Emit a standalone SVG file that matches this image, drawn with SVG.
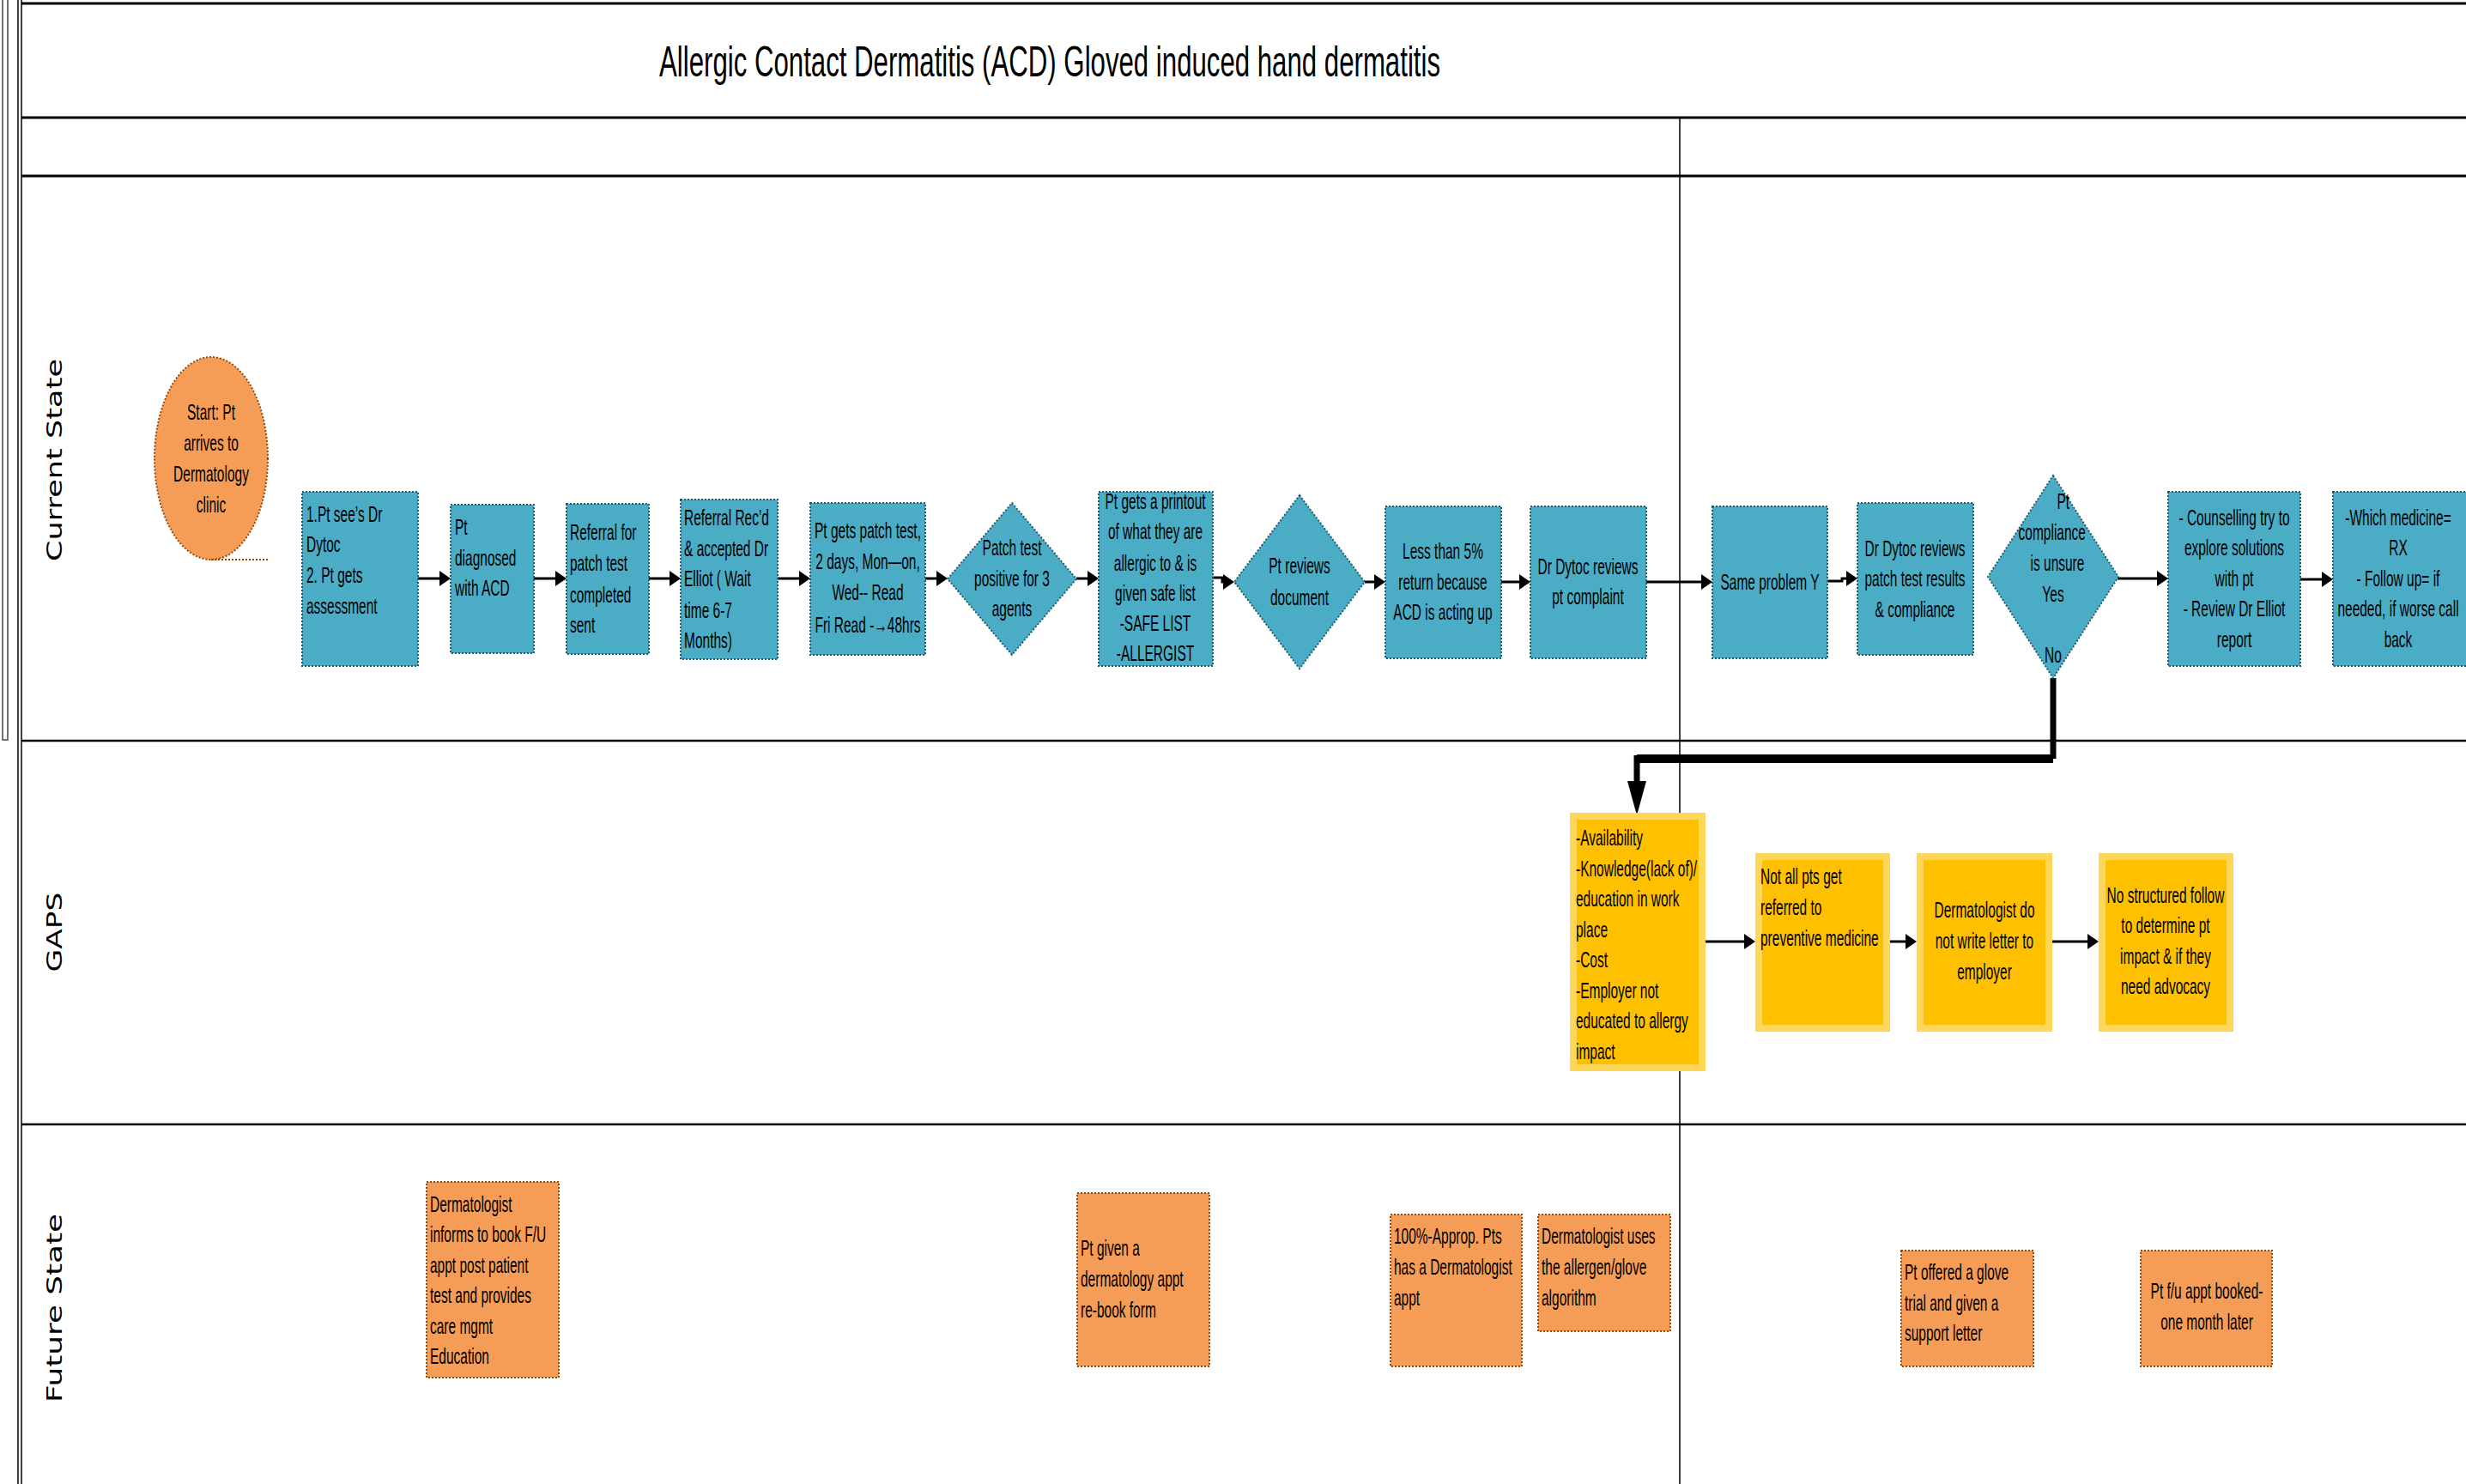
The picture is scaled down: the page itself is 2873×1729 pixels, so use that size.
<svg xmlns="http://www.w3.org/2000/svg" width="2873" height="1729" viewBox="0 0 2873 1729">
<style>
.t{font-family:"Liberation Sans",Arial,sans-serif;font-size:25px;fill:#000}
.lane{font-family:"DejaVu Sans","Liberation Sans",sans-serif;font-size:24px;fill:#000}
.blue{fill:#4BACC6;stroke:#1F5C70;stroke-width:2;stroke-dasharray:2 2}
.orange{fill:#F59D56;stroke:#984807;stroke-width:2;stroke-dasharray:2 2}
.yellow{fill:#FFC000;stroke:#FFD758;stroke-width:8}
.frame{stroke:#000;fill:none}
.c{fill:none;stroke:#000;stroke-width:3;marker-end:url(#ah)}
</style>
<defs>
<marker id="ah" markerUnits="userSpaceOnUse" markerWidth="14" markerHeight="18" refX="1" refY="9" orient="auto"><path d="M0,0 L13,9 L0,18 z" fill="#000"/></marker>
<marker id="ahBig" markerUnits="userSpaceOnUse" markerWidth="41" markerHeight="24" refX="0" refY="11" orient="auto"><path d="M0,0 L40,11 L0,22 z" fill="#000"/></marker>
</defs>
<rect width="2873" height="1729" fill="#fff"/>

<g id="frame">
<rect x="3" y="-5" width="6" height="867" fill="none" stroke="#444" stroke-width="1.5"/>
<line class="frame" x1="21" y1="0" x2="21" y2="1729" stroke-width="1.5"/>
<line class="frame" x1="25" y1="0" x2="25" y2="1729" stroke-width="1.5"/>
<line class="frame" x1="25" y1="4" x2="2873" y2="4" stroke-width="3"/>
<line class="frame" x1="25" y1="137" x2="2873" y2="137" stroke-width="3"/>
<line class="frame" x1="25" y1="205" x2="2873" y2="205" stroke-width="3"/>
<line class="frame" x1="25" y1="863" x2="2873" y2="863" stroke-width="2.5"/>
<line class="frame" x1="25" y1="1310" x2="2873" y2="1310" stroke-width="2.5"/>
<line class="frame" x1="1957" y1="137" x2="1957" y2="1729" stroke-width="1.5"/>
<text x="768" y="89" font-family="Liberation Sans, Arial, sans-serif" font-size="50" textLength="910" lengthAdjust="spacingAndGlyphs">Allergic Contact Dermatitis (ACD) Gloved induced hand dermatitis</text>
<text class="lane" transform="translate(72,536) rotate(-90)" text-anchor="middle" textLength="236" lengthAdjust="spacingAndGlyphs">Current State</text>
<text class="lane" transform="translate(72,1086) rotate(-90)" text-anchor="middle" textLength="93" lengthAdjust="spacingAndGlyphs">GAPS</text>
<text class="lane" transform="translate(72,1524) rotate(-90)" text-anchor="middle" textLength="220" lengthAdjust="spacingAndGlyphs">Future State</text>
</g>

<g id="connectors">
<path class="c" d="M486,674 H513"/>
<path class="c" d="M622,674 H648"/>
<path class="c" d="M756,674 H781"/>
<path class="c" d="M906,674 H932"/>
<path class="c" d="M1078,674 H1092"/>
<path class="c" d="M1254,674 H1268"/>
<path class="c" d="M1413,673 H1424 V678 H1426"/>
<path class="c" d="M1590,678 H1602"/>
<path class="c" d="M1749,678 H1771"/>
<path class="c" d="M1918,678 H1983"/>
<path class="c" d="M2129,677 H2146 V674 H2152"/>
<path class="c" d="M2467,674 H2514"/>
<path class="c" d="M2680,675 H2706"/>
<path d="M2392,790 V884" fill="none" stroke="#000" stroke-width="7"/>
<path d="M2392,884 H1907" fill="none" stroke="#000" stroke-width="10" stroke-linejoin="round"/>
<path d="M1907,880 V910" fill="none" stroke="#000" stroke-width="7" marker-end="url(#ahBig)"/>
<path class="c" d="M1987,1097 H2033"/>
<path class="c" d="M2202,1097 H2221"/>
<path class="c" d="M2391,1097 H2433"/>
</g>

<g id="n1">
<ellipse class="orange" cx="246" cy="534" rx="66" ry="118"/>
<line x1="246" y1="652" x2="312" y2="652" stroke="#984807" stroke-width="2" stroke-dasharray="2 2"/>
<text class="t" transform="translate(246 0) scale(0.62 1)" text-anchor="middle"><tspan x="0" y="489">Start: Pt</tspan><tspan x="0" y="525">arrives to</tspan><tspan x="0" y="561">Dermatology</tspan><tspan x="0" y="597">clinic</tspan></text>
</g>
<g id="n2">
<rect class="blue" x="352" y="573" width="135" height="203"/>
<text class="t" transform="translate(357 0) scale(0.62 1)"><tspan x="0" y="608">1.Pt see’s Dr</tspan><tspan x="0" y="643">Dytoc</tspan><tspan x="0" y="679">2. Pt gets</tspan><tspan x="0" y="715">assessment</tspan></text>
</g>
<g id="n3">
<rect class="blue" x="525" y="588" width="97" height="173"/>
<text class="t" transform="translate(530 0) scale(0.62 1)"><tspan x="0" y="623">Pt</tspan><tspan x="0" y="659">diagnosed</tspan><tspan x="0" y="694">with ACD</tspan></text>
</g>
<g id="n4">
<rect class="blue" x="660" y="587" width="96" height="175"/>
<text class="t" transform="translate(664 0) scale(0.62 1)"><tspan x="0" y="629">Referral for</tspan><tspan x="0" y="665">patch test</tspan><tspan x="0" y="702">completed</tspan><tspan x="0" y="737">sent</tspan></text>
</g>
<g id="n5">
<rect class="blue" x="793" y="582" width="113" height="186"/>
<text class="t" transform="translate(797 0) scale(0.62 1)"><tspan x="0" y="612">Referral Rec’d</tspan><tspan x="0" y="648">&amp; accepted Dr</tspan><tspan x="0" y="683">Elliot ( Wait</tspan><tspan x="0" y="720">time 6-7</tspan><tspan x="0" y="755">Months)</tspan></text>
</g>
<g id="n6">
<rect class="blue" x="944" y="586" width="134" height="177"/>
<text class="t" transform="translate(1011 0) scale(0.62 1)" text-anchor="middle"><tspan x="0" y="627">Pt gets patch test,</tspan><tspan x="0" y="663">2 days, Mon—on,</tspan><tspan x="0" y="699">Wed-- Read</tspan><tspan x="0" y="737">Fri Read -→48hrs</tspan></text>
</g>
<g id="n7">
<polygon class="blue" points="1179,586 1254,674.5 1179,763 1104,674.5"/>
<text class="t" transform="translate(1179 0) scale(0.62 1)" text-anchor="middle"><tspan x="0" y="647">Patch test</tspan><tspan x="0" y="683">positive for 3</tspan><tspan x="0" y="718">agents</tspan></text>
</g>
<g id="n8">
<rect class="blue" x="1280" y="573" width="133" height="203"/>
<text class="t" transform="translate(1346 0) scale(0.62 1)" text-anchor="middle"><tspan x="0" y="593">Pt gets a printout</tspan><tspan x="0" y="628">of what they are</tspan><tspan x="0" y="665">allergic to &amp; is</tspan><tspan x="0" y="700">given safe list</tspan><tspan x="0" y="735">-SAFE LIST</tspan><tspan x="0" y="770">-ALLERGIST</tspan></text>
</g>
<g id="n9">
<polygon class="blue" points="1514,577 1590,678 1514,779 1438,678"/>
<text class="t" transform="translate(1514 0) scale(0.62 1)" text-anchor="middle"><tspan x="0" y="668">Pt reviews</tspan><tspan x="0" y="705">document</tspan></text>
</g>
<g id="n10">
<rect class="blue" x="1614" y="590" width="135" height="177"/>
<text class="t" transform="translate(1681 0) scale(0.62 1)" text-anchor="middle"><tspan x="0" y="651">Less than 5%</tspan><tspan x="0" y="687">return because</tspan><tspan x="0" y="722">ACD is acting up</tspan></text>
</g>
<g id="n11">
<rect class="blue" x="1783" y="590" width="135" height="177"/>
<text class="t" transform="translate(1850 0) scale(0.62 1)" text-anchor="middle"><tspan x="0" y="669">Dr Dytoc reviews</tspan><tspan x="0" y="704">pt complaint</tspan></text>
</g>
<g id="n12">
<rect class="blue" x="1995" y="590" width="134" height="177"/>
<text class="t" transform="translate(2062 0) scale(0.62 1)" text-anchor="middle"><tspan x="0" y="687">Same problem Y</tspan></text>
</g>
<g id="n13">
<rect class="blue" x="2164" y="586" width="135" height="177"/>
<text class="t" transform="translate(2231 0) scale(0.62 1)" text-anchor="middle"><tspan x="0" y="648">Dr Dytoc reviews</tspan><tspan x="0" y="683">patch test results</tspan><tspan x="0" y="719">&amp; compliance</tspan></text>
</g>
<g id="n14">
<polygon class="blue" points="2392,554 2468,672 2392,790 2316,672"/>
<text class="t" transform="translate(2392 0) scale(0.62 1)" text-anchor="middle"><tspan x="19" y="593">Pt</tspan><tspan x="-2" y="629">compliance</tspan><tspan x="8" y="665">is unsure</tspan><tspan x="0" y="701">Yes</tspan><tspan x="0" y="772">No</tspan></text>
</g>
<g id="n15">
<rect class="blue" x="2526" y="573" width="154" height="203"/>
<text class="t" transform="translate(2603 0) scale(0.62 1)" text-anchor="middle"><tspan x="0" y="612">- Counselling try to</tspan><tspan x="0" y="647">explore solutions</tspan><tspan x="0" y="683">with pt</tspan><tspan x="0" y="718">- Review Dr Elliot</tspan><tspan x="0" y="754">report</tspan></text>
</g>
<g id="n16">
<rect class="blue" x="2718" y="573" width="160" height="203"/>
<text class="t" transform="translate(2794 0) scale(0.62 1)" text-anchor="middle"><tspan x="0" y="612">-Which medicine=</tspan><tspan x="0" y="647">RX</tspan><tspan x="0" y="683">- Follow up= if</tspan><tspan x="0" y="718">needed, if worse call</tspan><tspan x="0" y="754">back</tspan></text>
</g>

<g id="g1">
<rect class="yellow" x="1833" y="951" width="150" height="293"/>
<text class="t" transform="translate(1836 0) scale(0.62 1)"><tspan x="0" y="985">-Availability</tspan><tspan x="0" y="1021">-Knowledge(lack of)/</tspan><tspan x="0" y="1056">education in work</tspan><tspan x="0" y="1092">place</tspan><tspan x="0" y="1127">-Cost</tspan><tspan x="0" y="1163">-Employer not</tspan><tspan x="0" y="1198">educated to allergy</tspan><tspan x="0" y="1234">impact</tspan></text>
</g>
<g id="g2">
<rect class="yellow" x="2049" y="998" width="149" height="200"/>
<text class="t" transform="translate(2051 0) scale(0.62 1)"><tspan x="0" y="1030">Not all pts get</tspan><tspan x="0" y="1066">referred to</tspan><tspan x="0" y="1102">preventive medicine</tspan></text>
</g>
<g id="g3">
<rect class="yellow" x="2237" y="998" width="150" height="200"/>
<text class="t" transform="translate(2312 0) scale(0.62 1)" text-anchor="middle"><tspan x="0" y="1069">Dermatologist do</tspan><tspan x="0" y="1105">not write letter to</tspan><tspan x="0" y="1141">employer</tspan></text>
</g>
<g id="g4">
<rect class="yellow" x="2449" y="998" width="149" height="200"/>
<text class="t" transform="translate(2523 0) scale(0.62 1)" text-anchor="middle"><tspan x="0" y="1052">No structured follow</tspan><tspan x="0" y="1087">to determine pt</tspan><tspan x="0" y="1123">impact &amp; if they</tspan><tspan x="0" y="1158">need advocacy</tspan></text>
</g>

<g id="f1">
<rect class="orange" x="497" y="1377" width="154" height="228"/>
<text class="t" transform="translate(501 0) scale(0.62 1)"><tspan x="0" y="1412">Dermatologist</tspan><tspan x="0" y="1447">informs to book F/U</tspan><tspan x="0" y="1483">appt post patient</tspan><tspan x="0" y="1518">test and provides</tspan><tspan x="0" y="1554">care mgmt</tspan><tspan x="0" y="1589">Education</tspan></text>
</g>
<g id="f2">
<rect class="orange" x="1255" y="1390" width="154" height="202"/>
<text class="t" transform="translate(1259 0) scale(0.62 1)"><tspan x="0" y="1463">Pt given a</tspan><tspan x="0" y="1499">dermatology appt</tspan><tspan x="0" y="1535">re-book form</tspan></text>
</g>
<g id="f3">
<rect class="orange" x="1620" y="1415" width="153" height="177"/>
<text class="t" transform="translate(1624 0) scale(0.62 1)"><tspan x="0" y="1449">100%-Approp. Pts</tspan><tspan x="0" y="1485">has a Dermatologist</tspan><tspan x="0" y="1521">appt</tspan></text>
</g>
<g id="f4">
<rect class="orange" x="1792" y="1415" width="154" height="136"/>
<text class="t" transform="translate(1796 0) scale(0.62 1)"><tspan x="0" y="1449">Dermatologist uses</tspan><tspan x="0" y="1485">the allergen/glove</tspan><tspan x="0" y="1521">algorithm</tspan></text>
</g>
<g id="f5">
<rect class="orange" x="2215" y="1457" width="154" height="135"/>
<text class="t" transform="translate(2219 0) scale(0.62 1)"><tspan x="0" y="1491">Pt offered a glove</tspan><tspan x="0" y="1527">trial and given a</tspan><tspan x="0" y="1562">support letter</tspan></text>
</g>
<g id="f6">
<rect class="orange" x="2494" y="1457" width="153" height="135"/>
<text class="t" transform="translate(2571 0) scale(0.62 1)" text-anchor="middle"><tspan x="0" y="1513">Pt f/u appt booked-</tspan><tspan x="0" y="1549">one month later</tspan></text>
</g>
</svg>
